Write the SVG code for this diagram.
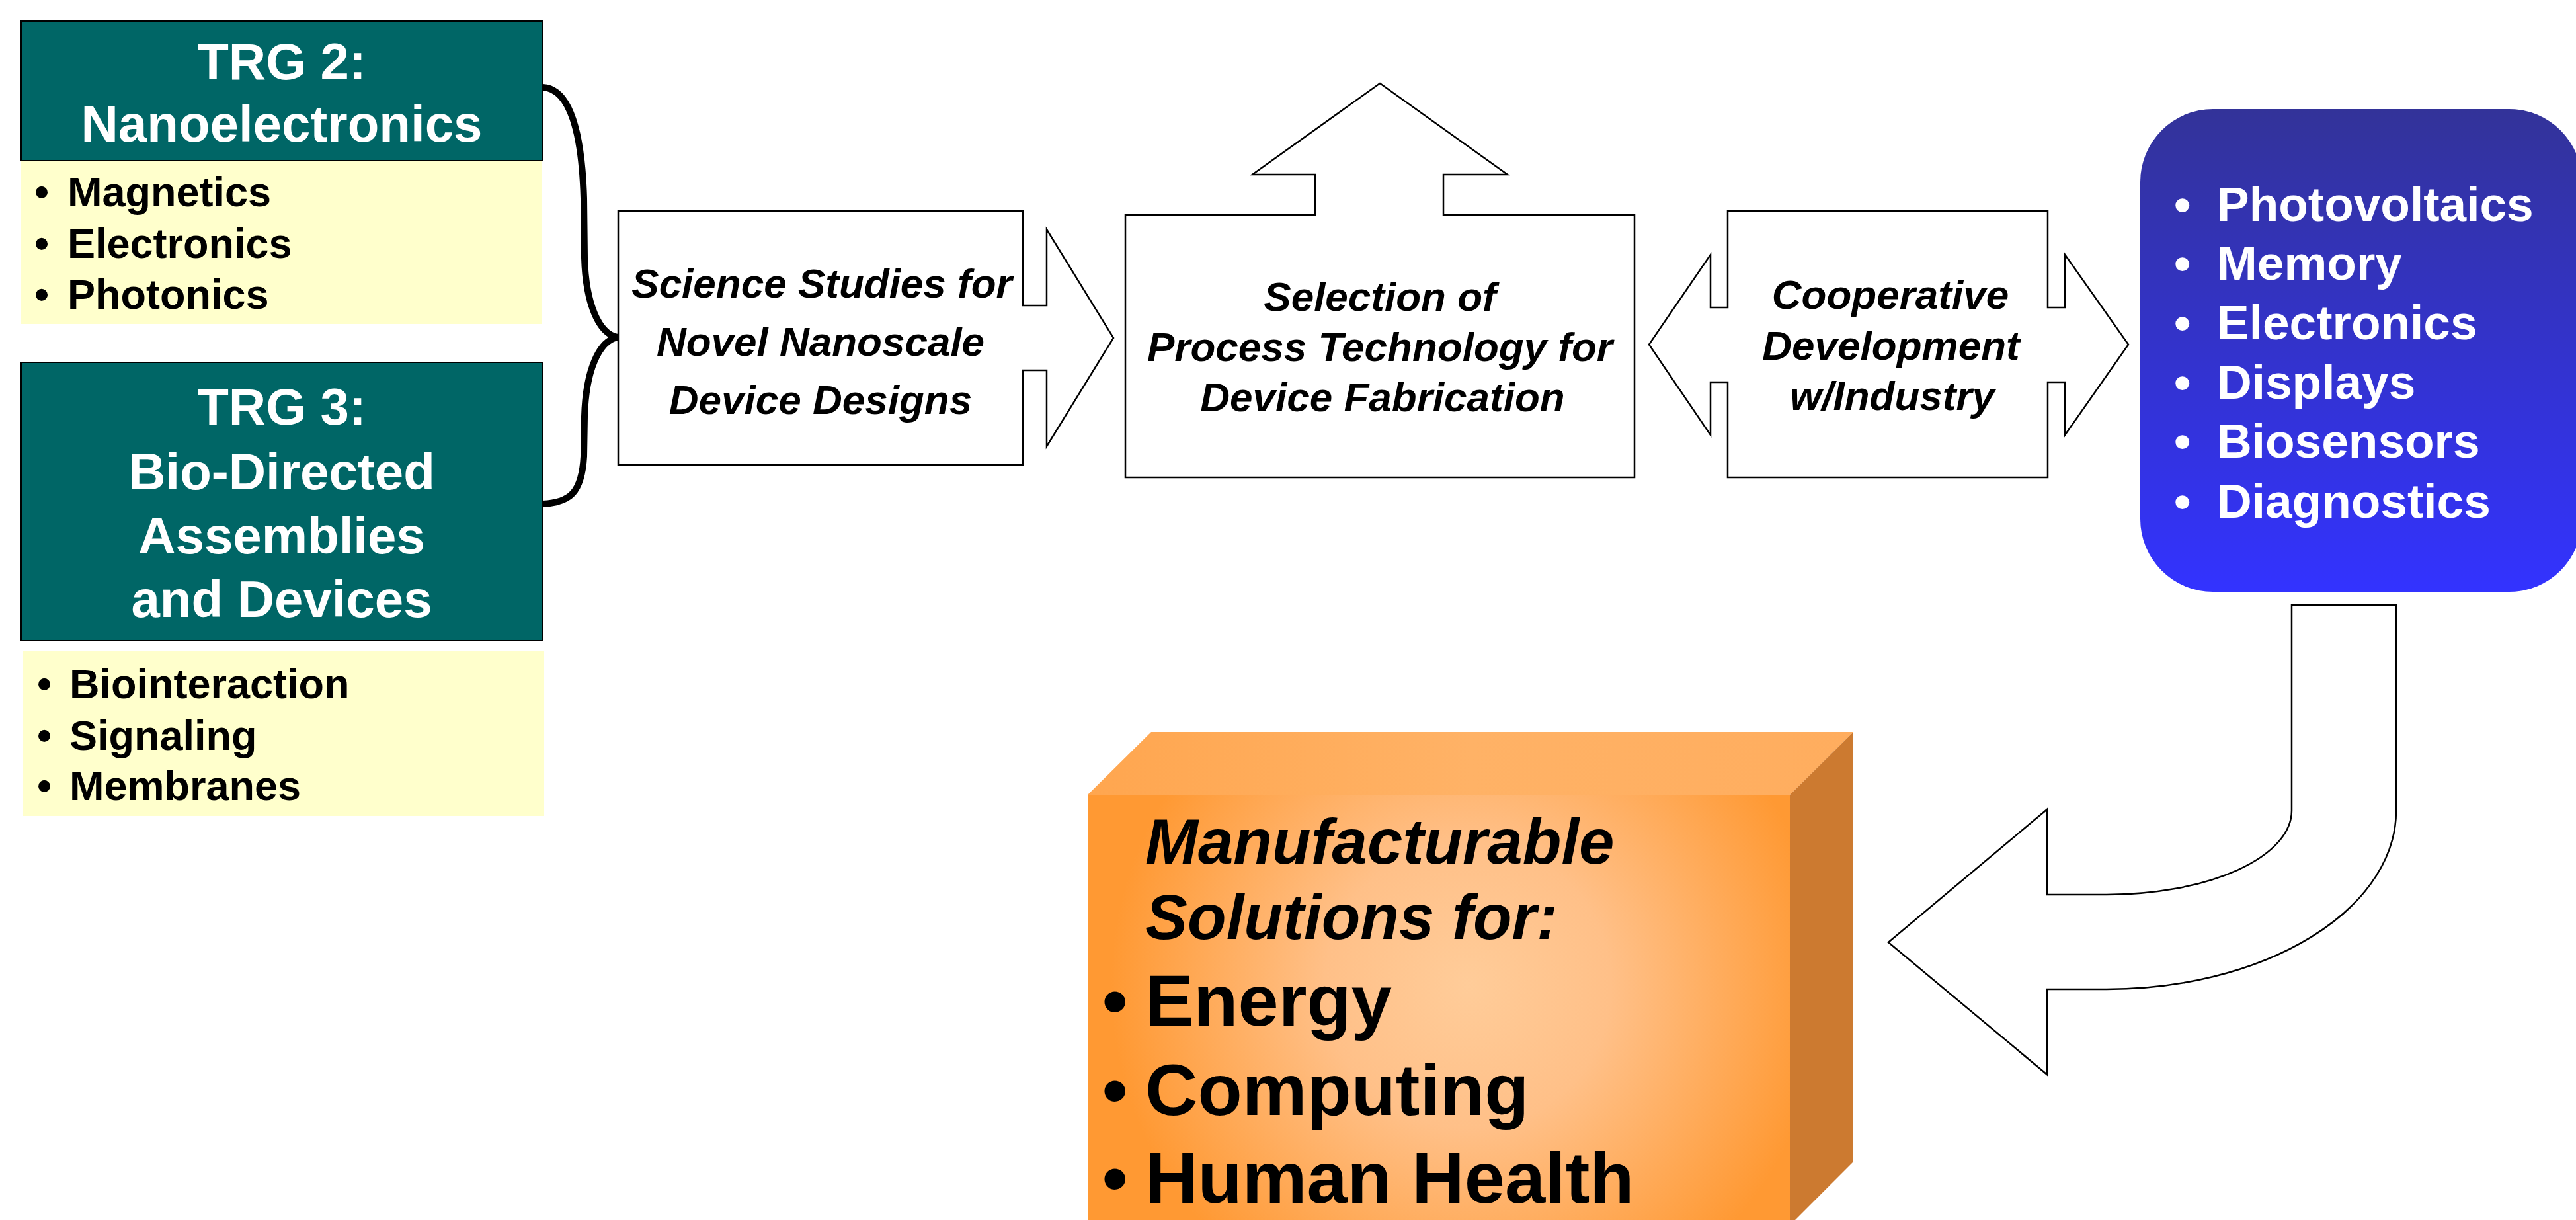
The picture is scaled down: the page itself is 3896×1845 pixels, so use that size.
<svg xmlns="http://www.w3.org/2000/svg" width="3896" height="1845" viewBox="0 0 3896 1845">
<style>
text{font-family:"Liberation Sans",Arial,Helvetica,sans-serif;font-weight:bold}
.trg{fill:#fff;font-size:78px;text-anchor:middle}
.li{fill:#000;font-size:63px}
.it{fill:#000;font-size:62px;font-style:italic;text-anchor:middle}
.bl{fill:#fff;font-size:73px}
.mf{fill:#000;font-size:96px;font-style:italic}
.big{fill:#000;font-size:110px}
.grn{fill:#006666;stroke:#000;stroke-width:2}
.yel{fill:#FFFFCC}
.shape{fill:#fff;stroke:#000;stroke-width:2.5;stroke-linejoin:miter}
</style>
<defs>
<linearGradient id="blueGrad" x1="0" y1="0" x2="0" y2="1">
<stop offset="0" stop-color="#333399"/>
<stop offset="1" stop-color="#3333FF"/>
</linearGradient>
<radialGradient id="frontGrad" gradientUnits="userSpaceOnUse" cx="2220" cy="1490" r="540">
<stop offset="0" stop-color="#FFCC99"/>
<stop offset="0.4" stop-color="#FFC088"/>
<stop offset="1" stop-color="#FF9933"/>
</radialGradient>
<linearGradient id="topGrad" x1="0" y1="0" x2="1" y2="0">
<stop offset="0" stop-color="#FFA64F"/>
<stop offset="0.5" stop-color="#FFB266"/>
<stop offset="1" stop-color="#FFAD5E"/>
</linearGradient>
</defs>
<rect x="0" y="0" width="3896" height="1845" fill="#fff"/>

<g id="trg2">
<rect class="grn" x="32" y="32" width="788" height="211"/>
<text class="trg" x="426" y="120">TRG 2:</text>
<text class="trg" x="426" y="214">Nanoelectronics</text>
</g>
<g id="trg2-list">
<rect class="yel" x="32" y="243" width="788" height="247"/>
<text class="li"><tspan x="52" y="312">•</tspan><tspan x="102" y="312">Magnetics</tspan></text>
<text class="li"><tspan x="52" y="390">•</tspan><tspan x="102" y="390">Electronics</tspan></text>
<text class="li"><tspan x="52" y="467">•</tspan><tspan x="102" y="467">Photonics</tspan></text>
</g>

<g id="trg3">
<rect class="grn" x="32" y="548" width="788" height="421"/>
<text class="trg" x="426" y="642">TRG 3:</text>
<text class="trg" x="426" y="740">Bio-Directed</text>
<text class="trg" x="426" y="837">Assemblies</text>
<text class="trg" x="426" y="933">and Devices</text>
</g>
<g id="trg3-list">
<rect class="yel" x="35" y="985" width="788" height="249"/>
<text class="li"><tspan x="56" y="1056">•</tspan><tspan x="105" y="1056">Biointeraction</tspan></text>
<text class="li"><tspan x="56" y="1134">•</tspan><tspan x="105" y="1134">Signaling</tspan></text>
<text class="li"><tspan x="56" y="1210">•</tspan><tspan x="105" y="1210">Membranes</tspan></text>
</g>

<g id="connectors">
<path d="M821,132 C862,134 880,200 883,300 L884,390 C886,460 906,505 934,510 C906,515 886,560 884,630 L883,690 C880,745 862,760 821,762" fill="none" stroke="#000" stroke-width="10"/>
</g>

<g id="science">
<path class="shape" d="M935,319 H1547 V462 H1583 V347 L1684,511 L1583,675 V560 H1547 V703 H935 Z"/>
<text class="it" x="1243" y="450">Science Studies for</text>
<text class="it" x="1241" y="538">Novel Nanoscale</text>
<text class="it" x="1241" y="626">Device Designs</text>
</g>

<g id="selection">
<path class="shape" d="M1702,325 H1989 V264 H1894 L2087,126 L2280,264 H2183 V325 H2472 V722 H1702 Z"/>
<text class="it" x="2087" y="470">Selection of</text>
<text class="it" x="2087" y="546">Process Technology for</text>
<text class="it" x="2091" y="622">Device Fabrication</text>
</g>

<g id="cooperative">
<path class="shape" d="M2613,319 H3097 V465 H3123 V385 L3219,521 L3123,658 V578 H3097 V722 H2613 V578 H2587 V658 L2494,521 L2587,385 V465 H2613 Z"/>
<text class="it" x="2859" y="467">Cooperative</text>
<text class="it" x="2860" y="544">Development</text>
<text class="it" x="2862" y="620">w/Industry</text>
</g>

<g id="applications">
<rect x="3237" y="165" width="668" height="730" rx="110" ry="110" fill="url(#blueGrad)"/>
<text class="bl"><tspan x="3288" y="334">•</tspan><tspan x="3353" y="334">Photovoltaics</tspan></text>
<text class="bl"><tspan x="3288" y="423">•</tspan><tspan x="3353" y="423">Memory</tspan></text>
<text class="bl"><tspan x="3288" y="513">•</tspan><tspan x="3353" y="513">Electronics</tspan></text>
<text class="bl"><tspan x="3288" y="603">•</tspan><tspan x="3353" y="603">Displays</tspan></text>
<text class="bl"><tspan x="3288" y="692">•</tspan><tspan x="3353" y="692">Biosensors</tspan></text>
<text class="bl"><tspan x="3288" y="783">•</tspan><tspan x="3353" y="783">Diagnostics</tspan></text>
</g>

<g id="bent-arrow">
<path class="shape" d="M3466,915 H3624 V1226 A438,270 0 0 1 3186,1496 H3096 V1625 L2856,1425 L3096,1224 V1353 H3186 A280,127 0 0 0 3466,1226 Z"/>
</g>

<g id="solutions">
<polygon points="1645,1202 1741,1107 2803,1107 2707,1202" fill="url(#topGrad)"/>
<polygon points="2707,1202 2803,1107 2803,1757 2707,1853" fill="#CC7A30"/>
<rect x="1645" y="1202" width="1062" height="660" fill="url(#frontGrad)"/>
<text class="mf" x="1732" y="1306">Manufacturable</text>
<text class="mf" x="1732" y="1420">Solutions for:</text>
<text class="big"><tspan x="1667" y="1551">•</tspan><tspan x="1732" y="1551">Energy</tspan></text>
<text class="big"><tspan x="1667" y="1686">•</tspan><tspan x="1732" y="1686">Computing</tspan></text>
<text class="big"><tspan x="1667" y="1819">•</tspan><tspan x="1732" y="1819">Human Health</tspan></text>
</g>
</svg>
